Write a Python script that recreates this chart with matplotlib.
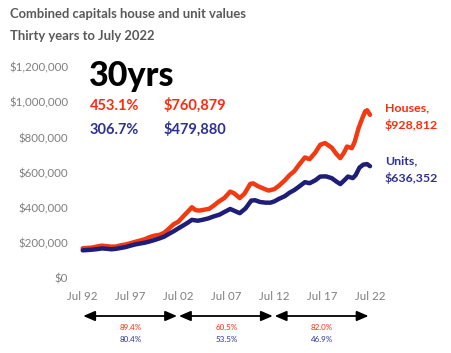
import matplotlib
matplotlib.use("Agg")
import matplotlib.pyplot as plt
from matplotlib.ticker import FuncFormatter

# ---------------------------------------------------------------
# Data (values in $)
# ---------------------------------------------------------------
house_years = [1992.5, 1993.0, 1993.5, 1994.0, 1994.5, 1995.0, 1995.5, 1996.0, 1996.5,
               1997.0, 1997.5, 1998.0, 1998.5, 1999.0, 1999.5, 2000.0, 2000.5, 2001.0,
               2001.5, 2002.0, 2002.5, 2003.0, 2003.5, 2003.9, 2004.3, 2004.7, 2005.2,
               2005.7, 2006.2, 2006.7, 2007.3, 2007.9, 2008.3, 2008.9, 2009.4, 2010.0,
               2010.3, 2010.8, 2011.4, 2011.9, 2012.5, 2013.0, 2013.6, 2014.1, 2014.6,
               2015.1, 2015.7, 2016.2, 2016.8, 2017.3, 2017.8, 2018.5, 2019.0, 2019.4,
               2019.8, 2020.1, 2020.6, 2020.9, 2021.3, 2021.7, 2022.0, 2022.2, 2022.5]
house_values = [168, 170, 172, 178, 183, 180, 177, 178, 185,
                190, 197, 205, 212, 220, 232, 240, 244, 256,
                280, 305, 320, 350, 378, 402, 385, 383, 388,
                393, 412, 434, 455, 491, 482, 454, 480, 535,
                538, 522, 508, 497, 505, 525, 555, 585, 608,
                645, 686, 676, 715, 758, 768, 742, 705, 682,
                715, 748, 739, 775, 852, 910, 949, 955, 929]

unit_years = [1992.5, 1993.0, 1993.5, 1994.0, 1994.5, 1995.0, 1995.5, 1996.0, 1996.5,
              1997.0, 1997.5, 1998.0, 1998.5, 1999.0, 1999.5, 2000.0, 2000.5, 2001.0,
              2001.5, 2002.0, 2002.5, 2003.0, 2003.5, 2003.9, 2004.5, 2005.0, 2005.6,
              2006.2, 2006.8, 2007.3, 2007.9, 2008.4, 2008.9, 2009.5, 2010.1, 2010.5,
              2011.0, 2011.6, 2012.1, 2012.5, 2013.0, 2013.6, 2014.1, 2014.6, 2015.1,
              2015.7, 2016.2, 2016.8, 2017.3, 2017.9, 2018.5, 2019.0, 2019.4, 2019.9,
              2020.2, 2020.7, 2021.0, 2021.4, 2021.8, 2022.2, 2022.5]
unit_values = [156, 158, 160, 163, 167, 165, 162, 165, 170,
               175, 183, 190, 195, 200, 207, 215, 224, 234,
               250, 265, 282, 298, 315, 330, 325, 330, 338,
               350, 360, 375, 392, 380, 368, 395, 440, 442,
               432, 428, 428, 435, 450, 465, 485, 500, 520,
               545, 539, 556, 577, 578, 568, 548, 534, 560,
               577, 568, 585, 628, 645, 648, 636]

tick_years = [1992.5, 1997.5, 2002.5, 2007.5, 2012.5, 2017.5, 2022.5]
tick_labels = ["Jul 92", "Jul 97", "Jul 02", "Jul 07", "Jul 12", "Jul 17", "Jul 22"]
y_ticks = [0, 200000, 400000, 600000, 800000, 1000000, 1200000]

# decade growth rates shown under the axis
periods = [(1992.5, 2002.5), (2002.5, 2012.5), (2012.5, 2022.5)]
house_growth = ["89.4%", "60.5%", "82.0%"]
unit_growth = ["80.4%", "53.5%", "46.9%"]

RED = "#F23A12"
NAVY = "#1E1E78"
TXT_RED = "#FF2A0A"
TXT_NAVY = "#2E3192"
GREY = "#7F7F7F"
FONT = "Lato"

fig = plt.figure(figsize=(4.51, 3.53), dpi=100)
ax = fig.add_axes([0.1834, 0.2133, 0.637, 0.596])

ax.plot(house_years, [v * 1000 for v in house_values], color=RED, lw=3.2,
        solid_capstyle="round", solid_joinstyle="round", clip_on=False)
ax.plot(unit_years, [v * 1000 for v in unit_values], color=NAVY, lw=3.2,
        solid_capstyle="round", solid_joinstyle="round", clip_on=False)

ax.set_xlim(1992.5, 2022.5)
ax.set_ylim(0, 1200000)
ax.set_xticks(tick_years)
ax.set_xticklabels(tick_labels)
ax.set_yticks(y_ticks)
ax.yaxis.set_major_formatter(FuncFormatter(lambda v, p: f"${v:,.0f}"))
ax.tick_params(axis="both", length=0, colors=GREY, labelsize=8.3)
ax.tick_params(axis="y", pad=10.5)
ax.tick_params(axis="x", pad=9.5)
for lab in ax.get_xticklabels() + ax.get_yticklabels():
    lab.set_family(FONT)
for s in ax.spines.values():
    s.set_visible(False)

# titles
fig.text(10 / 451, 1 - 18 / 353, "Combined capitals house and unit values",
         fontsize=9.4, fontweight="bold", color="#595959", family=FONT, va="baseline")
fig.text(10 / 451, 1 - 40 / 353, "Thirty years to July 2022",
         fontsize=9.4, fontweight="bold", color="#595959", family=FONT, va="baseline")

# big summary
fig.text(89 / 451, 1 - 86 / 353, "30yrs", fontsize=24.5, fontweight="black",
         color="black", family=FONT, va="baseline")
fig.text(90 / 451, 1 - 110 / 353, "453.1%", fontsize=10.5, fontweight="bold",
         color=TXT_RED, family=FONT, va="baseline")
fig.text(164 / 451, 1 - 110 / 353, "$760,879", fontsize=10.5, fontweight="bold",
         color=TXT_RED, family=FONT, va="baseline")
fig.text(90 / 451, 1 - 134 / 353, "306.7%", fontsize=10.5, fontweight="bold",
         color=TXT_NAVY, family=FONT, va="baseline")
fig.text(164 / 451, 1 - 134 / 353, "$479,880", fontsize=10.5, fontweight="bold",
         color=TXT_NAVY, family=FONT, va="baseline")

# end labels
fig.text(385 / 451, 1 - 111 / 353, "Houses,", fontsize=8.9, fontweight="bold",
         color=TXT_RED, family=FONT, va="baseline")
fig.text(385 / 451, 1 - 129 / 353, "$928,812", fontsize=8.9, fontweight="bold",
         color=TXT_RED, family=FONT, va="baseline")
fig.text(385 / 451, 1 - 164 / 353, "Units,", fontsize=8.9, fontweight="bold",
         color=TXT_NAVY, family=FONT, va="baseline")
fig.text(385 / 451, 1 - 182 / 353, "$636,352", fontsize=8.9, fontweight="bold",
         color=TXT_NAVY, family=FONT, va="baseline")

# period arrows with growth figures
trans = ax.get_xaxis_transform()
for (x0, x1), hg, ug in zip(periods, house_growth, unit_growth):
    ax.annotate("", xy=(x0 + 0.05, -0.182), xytext=(x1 - 0.15, -0.182),
                xycoords=trans, textcoords=trans, annotation_clip=False,
                arrowprops=dict(arrowstyle="<|-|>,head_length=0.7,head_width=0.3",
                                color="black", lw=1.3, shrinkA=0, shrinkB=0))
    xm = (x0 + x1) / 2
    ax.text(xm, -0.239, hg, transform=trans, ha="center", va="center",
            fontsize=5.8, color=TXT_RED, family=FONT)
    ax.text(xm, -0.294, ug, transform=trans, ha="center", va="center",
            fontsize=5.8, color=TXT_NAVY, family=FONT)

fig.savefig("out.png", dpi=100)
